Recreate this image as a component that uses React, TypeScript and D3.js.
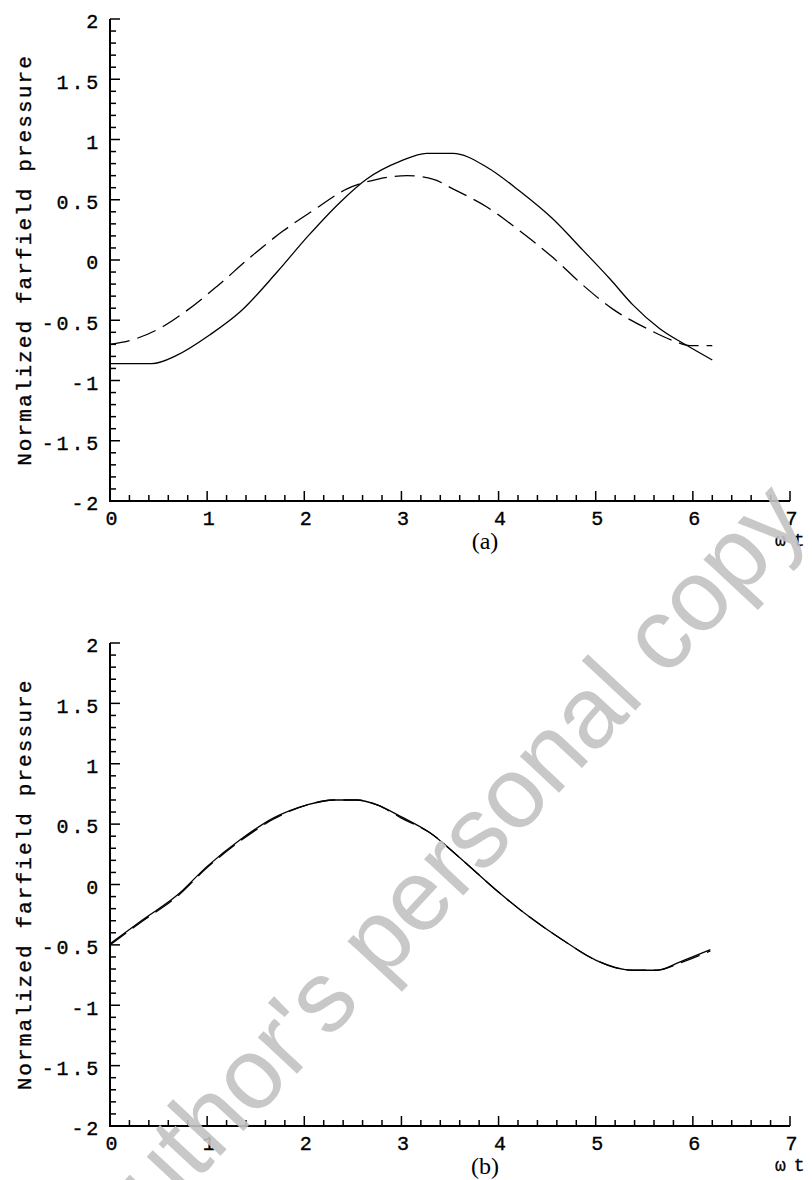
import React from 'react';
import * as d3 from 'd3';

// axis ticks
const xTickValues = [0, 1, 2, 3, 4, 5, 6, 7];
const yTickValues = [-2, -1.5, -1, -0.5, 0, 0.5, 1, 1.5, 2];
const yTickLabels = ['-2', '-1.5', '-1', '-0.5', '0', '0.5', '1', '1.5', '2'];
const yAxisTitle = 'Normalized farfield pressure';
const xAxisTitle = ['ω', 't'];
const panelLabels = ['(a)', '(b)'];

// panel (a) solid
const aSolidT = [0, 0.2, 0.43, 0.69, 1.03, 1.34, 1.72, 2.04, 2.37, 2.64, 2.99, 3.26, 3.53, 3.88, 4.22, 4.56, 4.87, 5.15, 5.38, 5.66, 5.94, 6.2];
const aSolidV = [-0.86, -0.86, -0.86, -0.79, -0.62, -0.43, -0.1, 0.2, 0.48, 0.67, 0.82, 0.885, 0.885, 0.77, 0.57, 0.34, 0.08, -0.16, -0.37, -0.57, -0.71, -0.83];

// panel (a) dashed
const aDashT = [0, 0.24, 0.55, 0.79, 1.1, 1.44, 1.78, 2.09, 2.44, 2.75, 3.06, 3.33, 3.53, 3.88, 4.22, 4.56, 4.87, 5.18, 5.53, 5.8, 5.97, 6.2];
const aDashV = [-0.7, -0.66, -0.55, -0.42, -0.22, 0.02, 0.24, 0.41, 0.59, 0.67, 0.7, 0.67, 0.59, 0.44, 0.24, 0.02, -0.21, -0.41, -0.57, -0.67, -0.71, -0.71];

// panel (b) solid
const bSolidT = [0, 0.34, 0.69, 1.0, 1.34, 1.68, 2.03, 2.3, 2.54, 2.75, 3.0, 3.29, 3.63, 3.98, 4.32, 4.66, 5.01, 5.38, 5.63, 5.87, 6.18];
const bSolidV = [-0.49, -0.29, -0.09, 0.15, 0.37, 0.55, 0.66, 0.7, 0.7, 0.66, 0.56, 0.43, 0.2, -0.05, -0.27, -0.46, -0.63, -0.71, -0.71, -0.64, -0.54];

// panel (b) dashed
const bDashT = [0, 0.34, 0.69, 1.0, 1.34, 1.68, 2.03, 2.3, 2.54, 2.75, 3.0, 3.29, 3.63, 3.98, 4.32, 4.66, 5.01, 5.38, 5.63, 5.87, 6.18];
const bDashV = [-0.5, -0.3, -0.1, 0.14, 0.36, 0.54, 0.66, 0.7, 0.7, 0.66, 0.55, 0.43, 0.2, -0.05, -0.27, -0.46, -0.63, -0.71, -0.71, -0.65, -0.55];

const W = 812;
const H = 1180;
const mono = '"Liberation Mono", "DejaVu Sans Mono", monospace';
const serif = '"Liberation Serif", "DejaVu Serif", serif';

function zip(ts: number[], vs: number[]): [number, number][] {
  return ts.map((t, i) => [t, vs[i]]);
}

function Panel({ top, bottom, label, solid, dashed }: {
  top: number; bottom: number; label: string;
  solid: [number, number][]; dashed: [number, number][];
}) {
  const x = d3.scaleLinear().domain([0, 7]).range([110, 790]);
  const y = d3.scaleLinear().domain([-2, 2]).range([bottom, top]);
  const line = d3.line<[number, number]>()
    .x(d => x(d[0]))
    .y(d => y(d[1]))
    .curve(d3.curveMonotoneX);

  const xMinor = d3.range(0, 7.0001, 0.2);
  const yMinor = d3.range(-2, 2.0001, 0.1);
  const mid = (top + bottom) / 2;

  return (
    <g>
      {/* ticks */}
      {xMinor.map((t, i) => {
        const major = Math.abs(t - Math.round(t)) < 1e-6;
        return <line key={'xm' + i} x1={x(t)} x2={x(t)} y1={bottom} y2={bottom - (major ? 10 : 6)} stroke="#000" strokeWidth={1.5} />;
      })}
      {yMinor.map((v, i) => {
        const major = Math.abs(v * 2 - Math.round(v * 2)) < 1e-6;
        return <line key={'ym' + i} x1={110} x2={110 + (major ? 10 : 6)} y1={y(v)} y2={y(v)} stroke="#000" strokeWidth={1.5} />;
      })}
      {/* axes */}
      <line x1={110} x2={110} y1={top} y2={bottom + 1} stroke="#000" strokeWidth={2} />
      <line x1={109} x2={790} y1={bottom} y2={bottom} stroke="#000" strokeWidth={2} />

      {/* tick labels */}
      {yTickValues.map((v, i) => (
        <text key={'yl' + i} x={101} y={y(v) + 4} textAnchor="end" dominantBaseline="middle"
          fontFamily={mono} fontSize={20} letterSpacing={2.8} stroke="#000" strokeWidth={0.35}>{yTickLabels[i]}</text>
      ))}
      {xTickValues.map((t, i) => (
        <text key={'xl' + i} x={x(t) + 1.5} y={bottom + 19} textAnchor="middle" dominantBaseline="middle"
          fontFamily={mono} fontSize={20} stroke="#000" strokeWidth={0.35}>{t}</text>
      ))}

      {/* titles */}
      <text transform={`translate(25,${mid}) rotate(-90)`} textAnchor="middle" dominantBaseline="middle"
        fontFamily={mono} fontSize={21} letterSpacing={2.1} stroke="#000" strokeWidth={0.35}>{yAxisTitle}</text>
      <text x={775} y={bottom + 40} dominantBaseline="middle"
        fontFamily={mono} fontSize={18} stroke="#000" strokeWidth={0.3}>
        {xAxisTitle[0]}<tspan dx={8}>{xAxisTitle[1]}</tspan>
      </text>
      <text x={485} y={bottom + 42} textAnchor="middle" dominantBaseline="middle"
        fontFamily={serif} fontSize={24}>{label}</text>

      {/* curves */}
      <path d={line(dashed) || ''} fill="none" stroke="#000" strokeWidth={1.3} strokeDasharray="20,8" />
      <path d={line(solid) || ''} fill="none" stroke="#000" strokeWidth={1.3} />
    </g>
  );
}

export default function App() {
  return (
    <svg width={W} height={H} style={{ position: 'absolute', left: 0, top: 0, background: '#fff' }}>
      <rect width={W} height={H} fill="#fff" />
      <Panel top={19} bottom={501} label={panelLabels[0]} solid={zip(aSolidT, aSolidV)} dashed={zip(aDashT, aDashV)} />
      <Panel top={643} bottom={1126} label={panelLabels[1]} solid={zip(bSolidT, bSolidV)} dashed={zip(bDashT, bDashV)} />
      <text transform="translate(442,879) rotate(-47)" textAnchor="middle" dominantBaseline="middle"
        fontFamily='"Liberation Sans", Arial, sans-serif' fontSize={101} fill="#c2c2c2" fillOpacity={0.9}>
        Author's personal copy
      </text>
    </svg>
  );
}
